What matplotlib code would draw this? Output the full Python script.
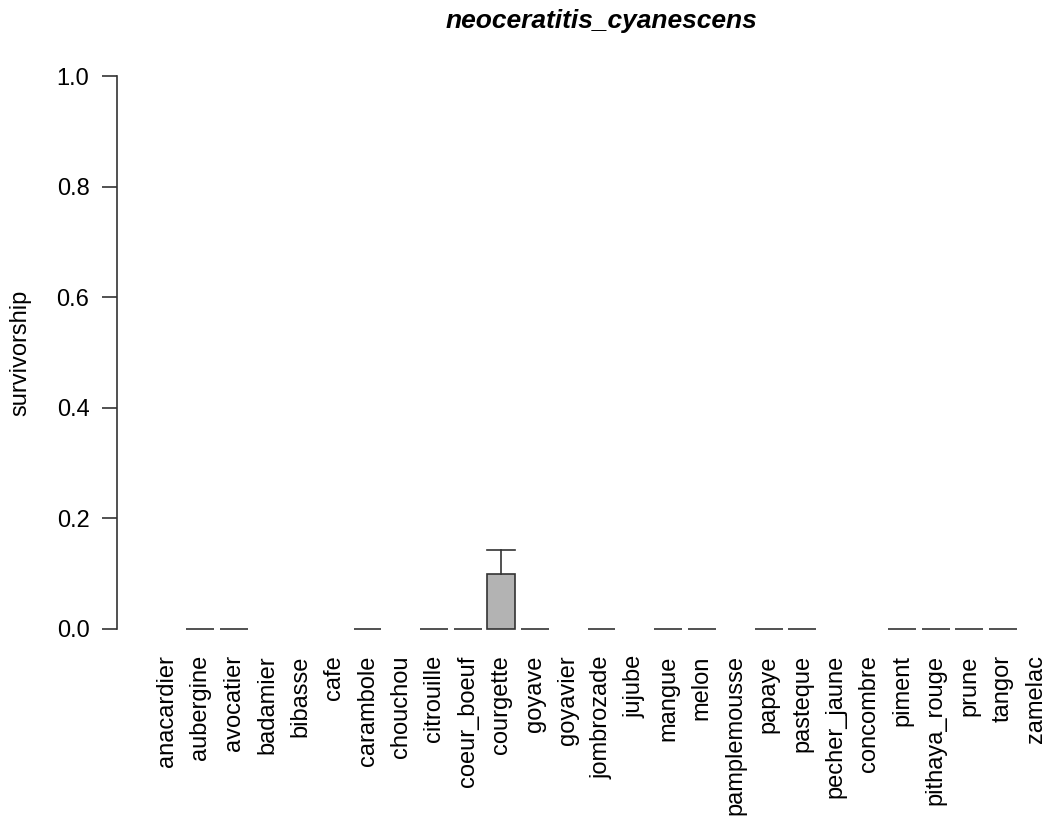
import matplotlib
matplotlib.use("Agg")
import matplotlib.pyplot as plt
import numpy as np

plt.rcParams["font.family"] = ["Liberation Sans", "DejaVu Sans"]

hosts = [
    "anacardier", "aubergine", "avocatier", "badamier", "bibasse", "cafe",
    "carambole", "chouchou", "citrouille", "coeur_boeuf", "courgette", "goyave",
    "goyavier", "jombrozade", "jujube", "mangue", "melon", "pamplemousse",
    "papaye", "pasteque", "pecher_jaune", "concombre", "piment", "pithaya_rouge",
    "prune", "tangor", "zamelac",
]
nan = np.nan
survival = [nan, 0, 0, nan, nan, nan, 0, nan, 0, 0, 0.1, 0, nan, 0, nan, 0, 0,
            nan, 0, 0, nan, nan, 0, 0, 0, 0, nan]
upper = [nan, 0, 0, nan, nan, nan, 0, nan, 0, 0, 0.143, 0, nan, 0, nan, 0, 0,
         nan, 0, 0, nan, nan, 0, 0, 0, 0, nan]

n = len(hosts)

fig = plt.figure(figsize=(10.54, 8.16), dpi=100)
left, right = 117.2 / 1054, 1085.8 / 1054
bottom, top = (816 - 651) / 816, (816 - 54) / 816
ax = fig.add_axes([left, bottom, right - left, top - bottom])

# R barplot layout: width 1, space 0.2
x = np.arange(n) * 1.2 + 0.7
vals = np.array(survival, dtype=float)
edge = "#333333"
ax.bar(x, np.nan_to_num(vals), width=1.0,
       color=["none" if np.isnan(v) else "#b3b3b3" for v in vals],
       edgecolor=["none" if np.isnan(v) else edge for v in vals], linewidth=1.2)
for xi, v, u in zip(x, vals, upper):
    if np.isnan(v) or u <= v:
        continue
    ax.plot([xi, xi], [v, u], color=edge, lw=1.2)
    ax.plot([xi - 0.5, xi + 0.5], [u, u], color=edge, lw=1.2)

span = x[-1] + 0.5 - (x[0] - 0.5)
ax.set_xlim(x[0] - 0.5 - 0.04 * span, x[-1] + 0.5 + 0.04 * span)
ax.set_ylim(-0.04, 1.04)
for s in ["top", "right", "bottom"]:
    ax.spines[s].set_visible(False)
ax.spines["left"].set_bounds(0, 1)
ax.spines["left"].set_linewidth(1.2)
ax.spines["left"].set_color(edge)
yt = np.arange(0, 1.01, 0.2)
ax.set_yticks(yt)
ax.set_yticklabels([f"{t:.1f}" for t in yt], fontsize=17)
ax.tick_params(axis="y", length=11, width=1.2, color=edge, pad=9)
ax.set_xticks(x)
ax.set_xticklabels(hosts, rotation=90, fontsize=17)
ax.tick_params(axis="x", length=0, pad=3)
ax.set_ylabel("survivorship", fontsize=17, labelpad=18)
ax.set_title("neoceratitis_cyanescens", fontsize=19, fontweight="bold",
             fontstyle="italic", pad=19)

fig.savefig("out.png", dpi=100)
